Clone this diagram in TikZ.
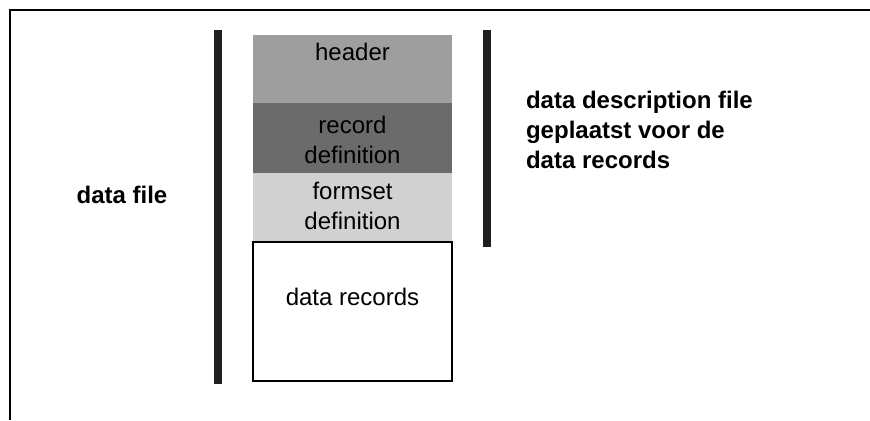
\documentclass[tikz,border=0pt]{standalone}
\usepackage{fontspec}
\setmainfont{Liberation Sans}
\usetikzlibrary{positioning}

\begin{document}
\begin{tikzpicture}[x=0.5pt,y=0.5pt,font=\fontsize{12}{15}\selectfont,
    bar/.style={fill=black!88,draw=none},
    layer/.style={draw=none},
    lbl/.style={font=\fontsize{12}{15}\selectfont\bfseries,align=left}]
  \useasboundingbox (0,0) rectangle (870,420);
  % open frame, top and left edge only
  \draw[line width=0.8pt] (870,410) -- (10,410) -- (10,0);
  % the two bars
  \fill[bar] (214,36) rectangle (222,390);
  \fill[bar] (483,173) rectangle (491,390);
  % layers of the file
  \fill[layer,black!38] (253,317) rectangle (452,385);
  \node (hdr) at (352.5,368) {header};
  \fill[layer,black!58] (253,247) rectangle (452,317);
  \node[align=center] (recdef) at (352.5,280) {record\\definition};
  \fill[layer,black!18] (253,178) rectangle (452,247);
  \node[align=center] (fsdef) at (352.5,214) {formset\\definition};
  \draw[line width=0.6pt] (253,39) rectangle (452,178);
  \node (recs) at (352.5,123) {data records};
  % labels
  \node[lbl] (dfile) at (122,225) {data file};
  \node[lbl,anchor=west] (ddesc) at (519,290) {data description file\\geplaatst voor de\\data records};
\end{tikzpicture}
\end{document}
